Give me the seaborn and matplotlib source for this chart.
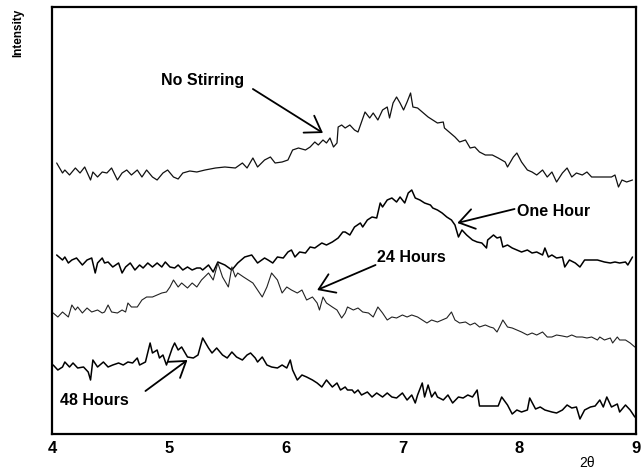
import matplotlib
matplotlib.use("Agg")
import matplotlib.pyplot as plt
import seaborn as sns
import pandas as pd

# ---- data (2-theta, intensity in arbitrary units) ----
no_stirring = [
    (4.04, 271), (4.09, 261), (4.11, 264), (4.15, 259), (4.20, 266), (4.24, 261), (4.28, 267),
    (4.33, 254), (4.35, 262), (4.39, 257), (4.43, 262), (4.47, 261), (4.51, 266), (4.56, 254),
    (4.60, 261), (4.64, 264), (4.68, 259), (4.73, 264), (4.77, 257), (4.81, 264), (4.86, 257),
    (4.90, 254), (4.95, 261), (4.99, 264), (5.04, 257), (5.08, 255), (5.12, 261), (5.18, 263),
    (5.24, 262), (5.31, 264), (5.40, 266), (5.48, 267), (5.57, 266), (5.63, 271), (5.67, 266),
    (5.72, 276), (5.76, 267), (5.82, 274), (5.87, 277), (5.91, 271), (5.97, 272), (6.02, 274),
    (6.06, 284), (6.11, 286), (6.17, 284), (6.21, 287), (6.25, 292), (6.28, 289), (6.32, 294),
    (6.35, 291), (6.38, 296), (6.41, 287), (6.44, 291), (6.45, 307), (6.48, 309), (6.51, 306),
    (6.55, 309), (6.59, 304), (6.62, 302), (6.65, 312), (6.68, 322), (6.72, 316), (6.75, 321),
    (6.79, 314), (6.83, 324), (6.87, 327), (6.89, 316), (6.92, 331), (6.95, 337), (6.98, 331),
    (7.01, 324), (7.04, 332), (7.07, 341), (7.09, 327), (7.13, 326), (7.18, 321), (7.22, 317),
    (7.26, 314), (7.30, 311), (7.35, 312), (7.36, 306), (7.41, 301), (7.45, 297), (7.49, 292),
    (7.54, 294), (7.58, 286), (7.62, 287), (7.66, 282), (7.71, 279), (7.77, 279), (7.82, 276),
    (7.88, 272), (7.90, 267), (7.95, 277), (7.98, 281), (8.02, 272), (8.07, 264), (8.11, 262),
    (8.15, 259), (8.20, 264), (8.24, 257), (8.28, 262), (8.32, 252), (8.37, 261), (8.41, 266),
    (8.45, 257), (8.49, 261), (8.54, 259), (8.58, 262), (8.62, 257), (8.67, 257), (8.73, 257),
    (8.79, 257), (8.82, 259), (8.85, 247), (8.88, 254), (8.92, 252), (8.97, 254),
]

one_hour = [
    (4.04, 179), (4.09, 174), (4.11, 177), (4.14, 171), (4.17, 174), (4.21, 176), (4.26, 169),
    (4.30, 174), (4.34, 176), (4.37, 161), (4.39, 171), (4.43, 176), (4.45, 171), (4.48, 172),
    (4.52, 167), (4.57, 171), (4.60, 161), (4.63, 167), (4.67, 171), (4.71, 164), (4.75, 169),
    (4.78, 166), (4.82, 171), (4.86, 167), (4.90, 171), (4.94, 167), (4.97, 172), (5.01, 167),
    (5.05, 166), (5.08, 169), (5.12, 164), (5.16, 167), (5.20, 164), (5.24, 166), (5.27, 166),
    (5.29, 164), (5.34, 169), (5.38, 162), (5.42, 172), (5.48, 169), (5.54, 164), (5.59, 171),
    (5.65, 177), (5.71, 179), (5.76, 171), (5.82, 176), (5.85, 174), (5.89, 171), (5.93, 177),
    (5.98, 176), (6.02, 182), (6.05, 184), (6.08, 177), (6.12, 182), (6.17, 181), (6.21, 187),
    (6.25, 186), (6.31, 191), (6.35, 189), (6.40, 192), (6.45, 196), (6.49, 202), (6.51, 202),
    (6.55, 199), (6.59, 207), (6.64, 211), (6.66, 207), (6.70, 214), (6.74, 217), (6.78, 216),
    (6.81, 231), (6.83, 227), (6.87, 234), (6.91, 236), (6.95, 232), (6.98, 237), (7.02, 231),
    (7.05, 241), (7.08, 244), (7.11, 236), (7.15, 234), (7.19, 231), (7.24, 229), (7.26, 226),
    (7.30, 224), (7.34, 221), (7.38, 217), (7.42, 214), (7.45, 209), (7.48, 197), (7.51, 204),
    (7.55, 199), (7.60, 194), (7.64, 192), (7.68, 191), (7.72, 186), (7.73, 194), (7.78, 199),
    (7.81, 196), (7.84, 197), (7.86, 187), (7.90, 189), (7.94, 186), (7.98, 184), (8.02, 182),
    (8.07, 184), (8.11, 181), (8.15, 182), (8.20, 179), (8.22, 186), (8.25, 177), (8.28, 179),
    (8.32, 176), (8.37, 177), (8.39, 167), (8.43, 174), (8.48, 171), (8.52, 167), (8.56, 174),
    (8.62, 174), (8.67, 174), (8.73, 172), (8.78, 171), (8.82, 172), (8.86, 171), (8.91, 172),
    (8.93, 169), (8.97, 177),
]

hours_24 = [
    (4.01, 121), (4.05, 117), (4.09, 122), (4.14, 117), (4.17, 129), (4.20, 124), (4.22, 127),
    (4.26, 121), (4.30, 126), (4.34, 122), (4.39, 124), (4.43, 121), (4.45, 122), (4.48, 129),
    (4.51, 122), (4.56, 121), (4.60, 124), (4.63, 122), (4.65, 131), (4.68, 127), (4.73, 127),
    (4.77, 134), (4.81, 137), (4.86, 137), (4.90, 139), (4.94, 141), (4.98, 142), (5.01, 147),
    (5.04, 154), (5.08, 147), (5.11, 151), (5.16, 146), (5.20, 151), (5.24, 147), (5.28, 154),
    (5.34, 161), (5.38, 154), (5.42, 171), (5.46, 157), (5.51, 147), (5.54, 167), (5.57, 157),
    (5.59, 161), (5.64, 157), (5.68, 154), (5.72, 151), (5.76, 144), (5.80, 137), (5.84, 147),
    (5.88, 161), (5.93, 154), (5.97, 141), (6.01, 147), (6.05, 144), (6.10, 141), (6.14, 144),
    (6.18, 134), (6.23, 137), (6.27, 131), (6.29, 124), (6.32, 137), (6.35, 131), (6.40, 127),
    (6.44, 124), (6.48, 116), (6.51, 121), (6.53, 127), (6.58, 124), (6.62, 126), (6.66, 122),
    (6.71, 121), (6.75, 117), (6.79, 127), (6.83, 121), (6.87, 114), (6.91, 117), (6.95, 116),
    (7.00, 119), (7.04, 117), (7.08, 119), (7.13, 117), (7.17, 114), (7.21, 111), (7.25, 114),
    (7.30, 112), (7.34, 114), (7.38, 116), (7.42, 122), (7.45, 114), (7.49, 111), (7.54, 112),
    (7.58, 109), (7.62, 111), (7.66, 107), (7.71, 109), (7.75, 107), (7.78, 106), (7.81, 102),
    (7.84, 109), (7.86, 114), (7.90, 107), (7.94, 106), (7.98, 104), (8.02, 102), (8.07, 99),
    (8.11, 101), (8.15, 99), (8.20, 102), (8.24, 97), (8.28, 97), (8.32, 99), (8.37, 98),
    (8.41, 97), (8.45, 99), (8.49, 97), (8.54, 97), (8.58, 96), (8.62, 97), (8.67, 94),
    (8.69, 97), (8.73, 94), (8.78, 96), (8.80, 91), (8.84, 97), (8.86, 94), (8.91, 94),
    (8.95, 91), (8.99, 87),
]

hours_48 = [
    (4.01, 69), (4.05, 64), (4.09, 67), (4.11, 72), (4.15, 67), (4.18, 71), (4.22, 66),
    (4.27, 67), (4.31, 62), (4.33, 54), (4.35, 74), (4.39, 67), (4.44, 72), (4.48, 67),
    (4.52, 69), (4.57, 71), (4.61, 69), (4.65, 72), (4.69, 71), (4.73, 76), (4.75, 69),
    (4.80, 72), (4.84, 91), (4.86, 81), (4.90, 84), (4.92, 76), (4.95, 79), (4.98, 69),
    (5.03, 86), (5.05, 91), (5.08, 84), (5.11, 87), (5.14, 81), (5.16, 77), (5.21, 76),
    (5.25, 79), (5.29, 96), (5.34, 86), (5.37, 81), (5.41, 86), (5.46, 79), (5.50, 76),
    (5.54, 82), (5.58, 77), (5.63, 74), (5.67, 79), (5.70, 81), (5.74, 76), (5.76, 72),
    (5.80, 77), (5.84, 69), (5.88, 67), (5.93, 66), (5.97, 69), (6.01, 66), (6.04, 74),
    (6.06, 64), (6.10, 54), (6.14, 59), (6.18, 57), (6.23, 54), (6.27, 51), (6.31, 47),
    (6.35, 54), (6.40, 47), (6.44, 51), (6.47, 44), (6.51, 47), (6.53, 44), (6.57, 44),
    (6.59, 41), (6.62, 44), (6.65, 39), (6.70, 42), (6.74, 37), (6.78, 41), (6.83, 37),
    (6.87, 41), (6.91, 37), (6.95, 36), (7.00, 41), (7.04, 34), (7.08, 39), (7.11, 31),
    (7.13, 39), (7.17, 51), (7.19, 37), (7.22, 49), (7.25, 37), (7.28, 42), (7.30, 37),
    (7.35, 34), (7.39, 39), (7.43, 31), (7.48, 37), (7.52, 36), (7.56, 39), (7.60, 37),
    (7.64, 44), (7.66, 28), (7.75, 28), (7.82, 28), (7.85, 37), (7.90, 29), (7.94, 20),
    (7.98, 24), (8.02, 22), (8.07, 24), (8.09, 36), (8.14, 25), (8.18, 27), (8.22, 24),
    (8.28, 22), (8.32, 21), (8.37, 24), (8.41, 29), (8.45, 26), (8.49, 27), (8.52, 15),
    (8.56, 24), (8.61, 27), (8.65, 28), (8.69, 34), (8.72, 27), (8.75, 37), (8.79, 27),
    (8.84, 30), (8.86, 22), (8.91, 29), (8.95, 24), (8.99, 17),
]

series_names = ["No Stirring", "One Hour", "24 Hours", "48 Hours"]
x_ticks = [4, 5, 6, 7, 8, 9]
x_label = "2θ"
y_label = "Intensity"

# ---- build long table ----
frames = []
for name, pts in zip(series_names, [no_stirring, one_hour, hours_24, hours_48]):
    d = pd.DataFrame(pts, columns=["two_theta", "intensity"])
    d["sample"] = name
    frames.append(d)
df = pd.concat(frames, ignore_index=True)

sns.set_theme(style="white")
plt.rcParams["font.family"] = ["Liberation Sans", "DejaVu Sans"]
plt.rcParams["text.color"] = "black"
plt.rcParams["xtick.color"] = "black"
plt.rcParams["xtick.labelcolor"] = "black"

fig = plt.figure(figsize=(6.41, 4.69), dpi=100)
ax = fig.add_axes([52 / 641, 1 - 434 / 469, 584 / 641, 427 / 469])

palette = {"No Stirring": "#111111", "One Hour": "#000000",
           "24 Hours": "#222222", "48 Hours": "#000000"}
sizes = {"No Stirring": 0.9, "One Hour": 1.1, "24 Hours": 0.8, "48 Hours": 1.1}
sns.lineplot(data=df, x="two_theta", y="intensity", hue="sample", palette=palette,
             size="sample", sizes=sizes, sort=False, estimator=None,
             legend=False, ax=ax)

ax.set_xlim(4, 9)
ax.set_ylim(0, 427)
ax.set_xticks(x_ticks)
ax.set_xticklabels([str(t) for t in x_ticks], fontsize=12, fontweight="bold", color="black")
ax.set_yticks([])
ax.tick_params(axis="x", length=0, pad=5)
ax.set_xlabel("")
ax.set_ylabel("")
for s in ax.spines.values():
    s.set_visible(True)
    s.set_color("black")
    s.set_linewidth(1.6)

fig.text(18 / 641, 1 - 33 / 469, y_label, rotation=90, ha="center", va="center",
         fontsize=8.5, fontweight="bold", color="black")
fig.text(587 / 641, 1 - 463 / 469, x_label, ha="center", va="center", fontsize=10,
         color="black")

arrow = dict(arrowstyle="->,head_length=0.9,head_width=0.6", color="black", lw=1.3,
             shrinkA=0, shrinkB=0)
txt = dict(fontsize=11.5, fontweight="bold", color="black")

ax.annotate("", xy=(6.32, 301), xytext=(5.72, 345), arrowprops=arrow)
ax.text(5.29, 354, "No Stirring", ha="center", va="center", **txt)

ax.annotate("", xy=(7.47, 211), xytext=(7.96, 225), arrowprops=arrow)
ax.text(7.98, 222, "One Hour", ha="left", va="center", **txt)

ax.annotate("", xy=(6.27, 144), xytext=(6.77, 169), arrowprops=arrow)
ax.text(6.78, 177, "24 Hours", ha="left", va="center", **txt)

ax.annotate("", xy=(5.16, 74), xytext=(4.80, 43), arrowprops=arrow)
ax.text(4.07, 34, "48 Hours", ha="left", va="center", **txt)

fig.savefig("out.png", dpi=100)
